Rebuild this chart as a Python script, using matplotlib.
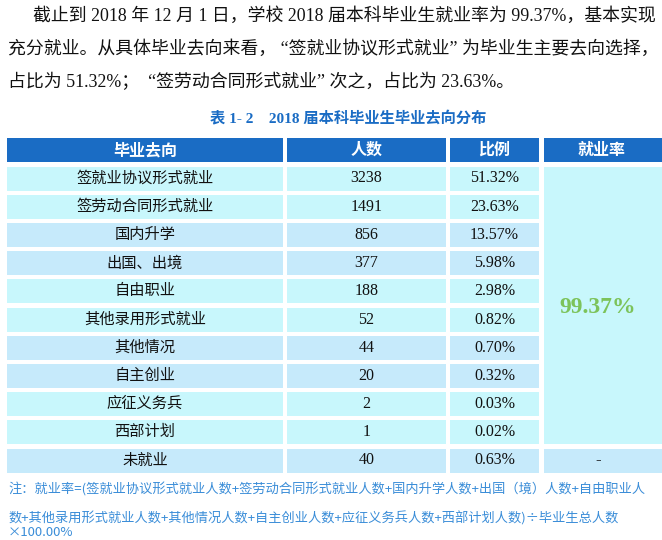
import matplotlib
matplotlib.use("Agg")
import matplotlib.pyplot as plt

# table content
categories = ["签就业协议形式就业", "签劳动合同形式就业", "国内升学", "出国、出境", "自由职业",
              "其他录用形式就业", "其他情况", "自主创业", "应征义务兵", "西部计划", "未就业"]
counts = [3238, 1491, 856, 377, 188, 52, 44, 20, 2, 1, 40]
ratios = ["51.32%", "23.63%", "13.57%", "5.98%", "2.98%", "0.82%", "0.70%", "0.32%",
          "0.03%", "0.02%", "0.63%"]
headers = ["毕业去向", "人数", "比例", "就业率"]
employment_rate = "99.37%"
unemployed_rate = "-"

paragraph = ["截止到 2018 年 12 月 1 日，学校 2018 届本科毕业生就业率为 99.37%，基本实现",
             "充分就业。从具体毕业去向来看， “签就业协议形式就业” 为毕业生主要去向选择，",
             "占比为 51.32%；  “签劳动合同形式就业” 次之，占比为 23.63%。"]
caption = "表 1- 2    2018 届本科毕业生毕业去向分布"
note = ["注：就业率=(签就业协议形式就业人数+签劳动合同形式就业人数+国内升学人数+出国（境）人数+自由职业人",
        "数+其他录用形式就业人数+其他情况人数+自主创业人数+应征义务兵人数+西部计划人数)÷毕业生总人数",
        "×100.00%"]

SERIF = ["Liberation Serif", "Noto Sans CJK SC"]
SANS = ["Noto Sans CJK SC", "DejaVu Sans"]
HEAD_BLUE = "#1A6CC4"
CYAN = "#C8F7FC"
LBLUE = "#C6EAFB"

W, H = 662, 540
fig = plt.figure(figsize=(W / 100, H / 100), dpi=100)
ax = fig.add_axes([0, 0, 1, 1])
ax.set_xlim(0, W)
ax.set_ylim(H, 0)
ax.axis("off")

# column edges (px)
col_left = [7, 287, 450, 544]
col_right = [283, 446, 539, 700]
col_mid = [(a + min(b, W)) / 2 for a, b in zip(col_left, col_right)]
col_mid[3] = 602

# header
hy, hh = 150, 24
for j, h in enumerate(headers):
    ax.barh(hy, col_right[j] - col_left[j], left=col_left[j], height=hh, color=HEAD_BLUE)
    ax.text(col_mid[j], hy, h, ha="center", va="center", color="white",
            fontsize=11.5, fontweight="bold", family=SANS)

# body rows
row0, step, rh = 178.5, 28.2, 24
n = len(categories)
ys = [row0 + i * step for i in range(n)]
colors = [CYAN if (i // 2) % 2 == 0 else LBLUE for i in range(n)]
for j in range(3):
    ax.barh(ys, col_right[j] - col_left[j], left=col_left[j], height=rh, color=colors)
for i in range(n):
    ax.text(col_mid[0], ys[i], categories[i], ha="center", va="center", fontsize=11,
            family=SERIF, color="#111111")
    ax.text(col_mid[1], ys[i], str(counts[i]), ha="center", va="center", fontsize=11.5,
            family=SERIF, color="#111111")
    ax.text(col_mid[2], ys[i], ratios[i], ha="center", va="center", fontsize=11.5,
            family=SERIF, color="#111111")

# merged employment-rate cell over the employed rows
top = ys[0] - rh / 2
bot = ys[n - 2] + rh / 2
ax.barh((top + bot) / 2, col_right[3] - col_left[3], left=col_left[3], height=bot - top, color=CYAN)
ax.text(col_mid[3] - 4, (top + bot) / 2 + 2, employment_rate, ha="center", va="center",
        fontsize=17, fontweight="bold", family=SERIF, color="#7CC35A")
ax.barh(ys[-1], col_right[3] - col_left[3], left=col_left[3], height=rh, color=colors[-1])
ax.text(col_mid[3] - 4, ys[-1], unemployed_rate, ha="center", va="center", fontsize=12,
        family=SERIF, color="#111111")

# text above the table
ax.text(33, 16, paragraph[0], ha="left", va="center", fontsize=12.9, family=SERIF, color="#111111")
ax.text(8, 49, paragraph[1], ha="left", va="center", fontsize=12.9, family=SERIF, color="#111111")
ax.text(8, 82, paragraph[2], ha="left", va="center", fontsize=12.9, family=SERIF, color="#111111")
ax.text(348, 118, caption, ha="center", va="center", fontsize=11, fontweight="bold",
        family=SERIF, color="#1A6CC4")

# note below the table
ax.text(8, 490, note[0], ha="left", va="center", fontsize=9.5, family=SANS, color="#3A8DD8")
ax.text(8, 518, note[1], ha="left", va="center", fontsize=9.5, family=SANS, color="#3A8DD8")
ax.text(8, 533, note[2], ha="left", va="center", fontsize=9.5, family=SANS, color="#3A8DD8")

fig.savefig("out.png", dpi=100)
